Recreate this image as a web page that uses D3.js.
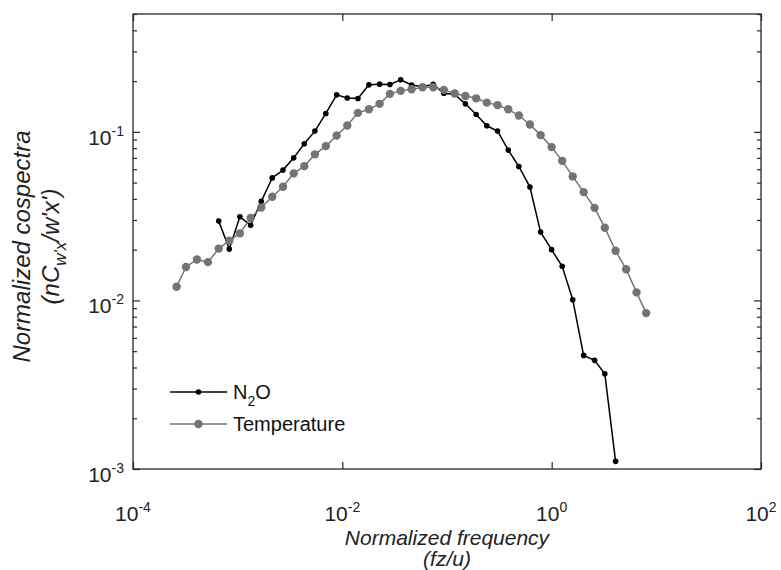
<!DOCTYPE html>
<html>
<head>
<meta charset="utf-8">
<script src="https://cdn.jsdelivr.net/npm/d3@7"></script>
<style>
  body { margin: 0; background: #fff; }
  svg { display: block; font-family: Arial, "Liberation Sans", sans-serif; }
</style>
</head>
<body>
<div id="chart"></div>
<script>
// normalized frequency (fz/u) of each bin
const freq = [2.61e-4, 3.21e-4, 4.08e-4, 5.20e-4, 6.59e-4, 8.32e-4, 1.05e-3, 1.33e-3, 1.68e-3, 2.14e-3,
  2.71e-3, 3.43e-3, 4.33e-3, 5.47e-3, 6.96e-3, 8.83e-3, 0.01115, 0.01409, 0.01794, 0.0227,
  0.0285, 0.0361, 0.0459, 0.0585, 0.0738, 0.0933, 0.1183, 0.150, 0.190, 0.240,
  0.304, 0.385, 0.486, 0.620, 0.784, 0.998, 1.26, 1.59, 2.02, 2.57,
  3.22, 4.08, 5.15, 6.47, 8.0];

const temperature = [0.01205, 0.0158, 0.0175, 0.01687, 0.0203, 0.0226, 0.0250, 0.0308, 0.0356, 0.0412,
  0.0472, 0.0567, 0.0626, 0.0735, 0.0823, 0.0952, 0.109, 0.1296, 0.136, 0.1466,
  0.168, 0.175, 0.179, 0.184, 0.184, 0.1774, 0.169, 0.163, 0.158, 0.149,
  0.144, 0.136, 0.125, 0.1106, 0.0956, 0.0812, 0.0673, 0.0544, 0.0439, 0.0354,
  0.0270, 0.0197, 0.0153, 0.01116, 0.00841];

const n2oFreq = [6.59e-4, 8.32e-4, 1.05e-3, 1.33e-3, 1.68e-3, 2.14e-3, 2.71e-3, 3.43e-3, 4.33e-3, 5.47e-3,
  6.96e-3, 8.83e-3, 0.01115, 0.01409, 0.01794, 0.0227, 0.0285, 0.0361, 0.0459, 0.0585,
  0.0738, 0.0933, 0.1183, 0.150, 0.190, 0.240, 0.304, 0.385, 0.486, 0.620,
  0.784, 0.998, 1.26, 1.59, 2.02, 2.57, 3.22, 4.08];

const n2o = [0.02954, 0.02016, 0.03133, 0.02791, 0.03867, 0.0533, 0.0593, 0.0701, 0.0849, 0.101,
  0.1285, 0.1657, 0.1589, 0.1578, 0.190, 0.1918, 0.1910, 0.2037, 0.1897, 0.1853,
  0.1913, 0.1696, 0.1667, 0.1466, 0.1267, 0.1086, 0.101, 0.0779, 0.0623, 0.0470,
  0.02543, 0.0200, 0.01594, 0.01009, 0.00472, 0.00441, 0.00367, 0.00111];

const xTicks = [1e-4, 1e-2, 1e0, 1e2];
const xTickExp = ["-4", "-2", "0", "2"];
const yTicks = [1e-3, 1e-2, 1e-1];
const yTickExp = ["-3", "-2", "-1"];

const W = 781, H = 570;
const margin = {top: 14, right: 20, bottom: 101, left: 133};
const width = W - margin.left - margin.right,
      height = H - margin.top - margin.bottom;

const axisColor = "#262626";
const grey = "#747474";

const svg = d3.select("#chart").append("svg")
    .attr("width", W)
    .attr("height", H);

const g = svg.append("g")
    .attr("transform", `translate(${margin.left},${margin.top})`);

const x = d3.scaleLog().domain([1e-4, 1e2]).range([0, width]);
const y = d3.scaleLog().domain([1e-3, 0.5]).range([height, 0]);

// minor ticks on y (2..9 per decade)
let yMinor = [];
for (let e = -3; e <= -1; e++) {
    for (let m = 2; m <= 9; m++) {
        let v = m * Math.pow(10, e);
        if (v <= 0.5) yMinor.push(v);
    }
}

// ticks point inward, on all four sides
const tickStyle = sel => {
    sel.select(".domain").remove();
    sel.selectAll("line").attr("stroke", axisColor).attr("stroke-width", 1.2);
    sel.selectAll("text").remove();
};

g.append("g").attr("transform", `translate(0,${height})`)
    .call(d3.axisBottom(x).tickValues(xTicks).tickSize(-7).tickFormat(""))
    .call(tickStyle);
g.append("g")
    .call(d3.axisTop(x).tickValues(xTicks).tickSize(-7).tickFormat(""))
    .call(tickStyle);
g.append("g")
    .call(d3.axisLeft(y).tickValues(yTicks).tickSize(-7).tickFormat(""))
    .call(tickStyle);
g.append("g")
    .call(d3.axisLeft(y).tickValues(yMinor).tickSize(-4).tickFormat(""))
    .call(tickStyle);
g.append("g").attr("transform", `translate(${width},0)`)
    .call(d3.axisRight(y).tickValues(yTicks).tickSize(-7).tickFormat(""))
    .call(tickStyle);
g.append("g").attr("transform", `translate(${width},0)`)
    .call(d3.axisRight(y).tickValues(yMinor).tickSize(-4).tickFormat(""))
    .call(tickStyle);

// box
g.append("rect")
    .attr("width", width)
    .attr("height", height)
    .attr("fill", "none")
    .attr("stroke", axisColor)
    .attr("stroke-width", 1.3);

// tick labels with superscripts
const xl = g.append("g").selectAll("text")
    .data(xTicks)
    .enter().append("text")
    .attr("x", d => x(d))
    .attr("y", height + 52)
    .attr("text-anchor", "middle")
    .attr("font-size", 21)
    .attr("fill", "#222");
xl.append("tspan").text("10");
xl.append("tspan").attr("dy", -9).attr("font-size", 14).text((d, i) => xTickExp[i]);

const yl = g.append("g").selectAll("text")
    .data(yTicks)
    .enter().append("text")
    .attr("x", -9)
    .attr("y", d => y(d) + 13)
    .attr("text-anchor", "end")
    .attr("font-size", 21)
    .attr("fill", "#222");
yl.append("tspan").text("10");
yl.append("tspan").attr("dy", -9).attr("font-size", 14).text((d, i) => yTickExp[i]);

// axis titles
const xTitle = svg.append("g").attr("fill", "#222").attr("font-size", 21).attr("font-style", "italic")
    .attr("text-anchor", "middle");
xTitle.append("text").attr("x", margin.left + width / 2).attr("y", 545).text("Normalized frequency");
xTitle.append("text").attr("x", margin.left + width / 2).attr("y", 566).text("(fz/u)");

const yTitle = svg.append("g")
    .attr("transform", `translate(0,${margin.top + height / 2 + 5}) rotate(-90)`)
    .attr("fill", "#222").attr("font-size", 24).attr("font-style", "italic")
    .attr("text-anchor", "middle");
yTitle.append("text").attr("x", 0).attr("y", 30).text("Normalized cospectra");
let t2 = yTitle.append("text").attr("x", 0).attr("y", 59);
t2.append("tspan").text("(nC");
t2.append("tspan").attr("dy", 7).attr("font-size", 17).text("w'x");
t2.append("tspan").attr("dy", -7).text("/w'x')");

// series
const n2oRows = n2oFreq.map((f, i) => ({f: f, v: n2o[i]}));
const tRows = freq.map((f, i) => ({f: f, v: temperature[i]}));

const line = d3.line().x(d => x(d.f)).y(d => y(d.v));

g.append("path").datum(n2oRows)
    .attr("fill", "none").attr("stroke", "#000").attr("stroke-width", 1.5)
    .attr("d", line);
g.append("g").selectAll("circle").data(n2oRows)
    .enter().append("circle")
    .attr("cx", d => x(d.f)).attr("cy", d => y(d.v)).attr("r", 2.8)
    .attr("fill", "#000");

g.append("path").datum(tRows)
    .attr("fill", "none").attr("stroke", grey).attr("stroke-width", 1.5)
    .attr("d", line);
g.append("g").selectAll("circle").data(tRows)
    .enter().append("circle")
    .attr("cx", d => x(d.f)).attr("cy", d => y(d.v)).attr("r", 4.2)
    .attr("fill", grey);

// legend
const legend = svg.append("g").attr("font-size", 20).attr("fill", "#111");
const items = [
    {name: "N2O", color: "#000", r: 2.8, y: 392},
    {name: "Temperature", color: grey, r: 4.2, y: 424}
];
items.forEach(it => {
    legend.append("line")
        .attr("x1", 170).attr("x2", 227).attr("y1", it.y).attr("y2", it.y)
        .attr("stroke", it.color).attr("stroke-width", 1.5);
    legend.append("circle")
        .attr("cx", 198.5).attr("cy", it.y).attr("r", it.r).attr("fill", it.color);
    let t = legend.append("text").attr("x", 233).attr("y", it.y + 7);
    if (it.name === "N2O") {
        t.append("tspan").text("N");
        t.append("tspan").attr("dy", 7).attr("font-size", 14).text("2");
        t.append("tspan").attr("dy", -7).text("O");
    } else {
        t.text(it.name);
    }
});
</script>
</body>
</html>
